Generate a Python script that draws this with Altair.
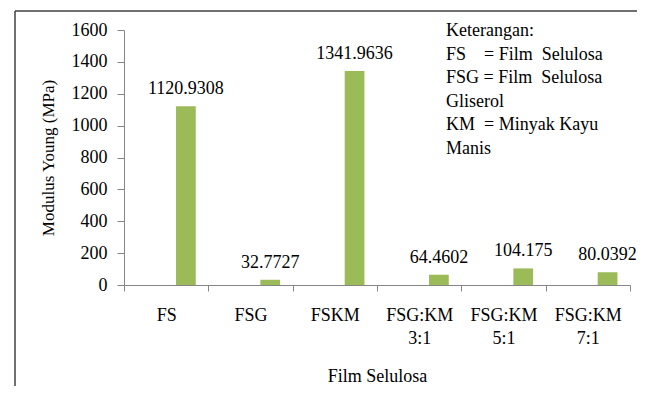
import altair as alt
import pandas as pd

categories = ["FS", "FSG", "FSKM", "FSG:KM\n3:1", "FSG:KM\n5:1", "FSG:KM\n7:1"]
values = [1120.9308, 32.7727, 1341.9636, 64.4602, 104.175, 80.0392]
value_labels = ["1120.9308", "32.7727", "1341.9636", "64.4602", "104.175", "80.0392"]
y_ticks = [0, 200, 400, 600, 800, 1000, 1200, 1400, 1600]
series_slots = ["s1", "s2", "s3"]
legend_lines = [
    "Keterangan:",
    "FS\u00a0\u00a0\u00a0\u00a0= Film\u00a0\u00a0Selulosa",
    "FSG\u00a0=\u00a0Film\u00a0\u00a0Selulosa",
    "Gliserol",
    "KM\u00a0\u00a0= Minyak\u00a0Kayu",
    "Manis",
]

df = pd.DataFrame({"cat": categories, "val": values, "lab": value_labels, "series": "s3"})

FONT = "Liberation Serif"
GRAY = "#868686"

x_enc = alt.X(
    "cat:N",
    sort=categories,
    scale=alt.Scale(paddingInner=0, paddingOuter=0),
    axis=alt.Axis(
        title="Film Selulosa",
        labelAngle=0,
        tickBand="extent",
        labelExpr="split(datum.label, '\\n')",
        labelLineHeight=23,
        labelFontSize=18,
        labelPadding=15,
        labelBaseline="top",
        labelFont=FONT,
        titleFont=FONT,
        titleFontSize=18,
        titleFontWeight="normal",
        titlePadding=20,
        tickSize=6,
        domainColor=GRAY,
        tickColor=GRAY,
        labelColor="black",
        titleColor="black",
    ),
)
xoff_enc = alt.XOffset(
    "series:N",
    scale=alt.Scale(domain=series_slots, paddingInner=0, paddingOuter=0.6375),
)
y_enc = alt.Y(
    "val:Q",
    scale=alt.Scale(domain=[0, 1600]),
    axis=alt.Axis(
        title="Modulus Young (MPa)",
        values=y_ticks,
        format="d",
        grid=False,
        labelFontSize=18,
        labelPadding=10,
        labelFont=FONT,
        titleFont=FONT,
        titleFontSize=17,
        titleFontWeight="normal",
        titlePadding=14,
        tickSize=7,
        domainColor=GRAY,
        tickColor=GRAY,
        labelColor="black",
        titleColor="black",
    ),
)

base = alt.Chart(df)
bars = base.mark_bar(color="#9BBB59").encode(x=x_enc, xOffset=xoff_enc, y=y_enc)
texts = base.mark_text(
    baseline="alphabetic", dy=-12, fontSize=18, color="black", font=FONT
).encode(x=x_enc, xOffset=xoff_enc, y=y_enc, text="lab:N")

one = pd.DataFrame({"d": [0]})
frame_top = alt.Chart(one).mark_rule(stroke="#404040", strokeWidth=1.5).encode(
    x=alt.value(-109), x2=alt.value(513), y=alt.value(-19)
)
frame_left = alt.Chart(one).mark_rule(stroke="#404040", strokeWidth=1.5).encode(
    x=alt.value(-109), y=alt.value(-19), y2=alt.value(356)
)

legend = alt.Chart(one).mark_text(
    align="left", baseline="alphabetic", lineHeight=23.5, fontSize=18, color="black", font=FONT
).encode(x=alt.value(322), y=alt.value(6), text=alt.value(legend_lines))

chart = alt.layer(frame_top, frame_left, bars, texts, legend).properties(
    width=506,
    height=255,
    autosize=alt.AutoSizeParams(type="none"),
    padding={"left": 116, "top": 22, "right": 7, "bottom": 101},
).configure(font=FONT).configure_view(stroke="transparent", strokeWidth=0)

chart.save("out.html", embed_options={"renderer": "svg", "actions": False})
